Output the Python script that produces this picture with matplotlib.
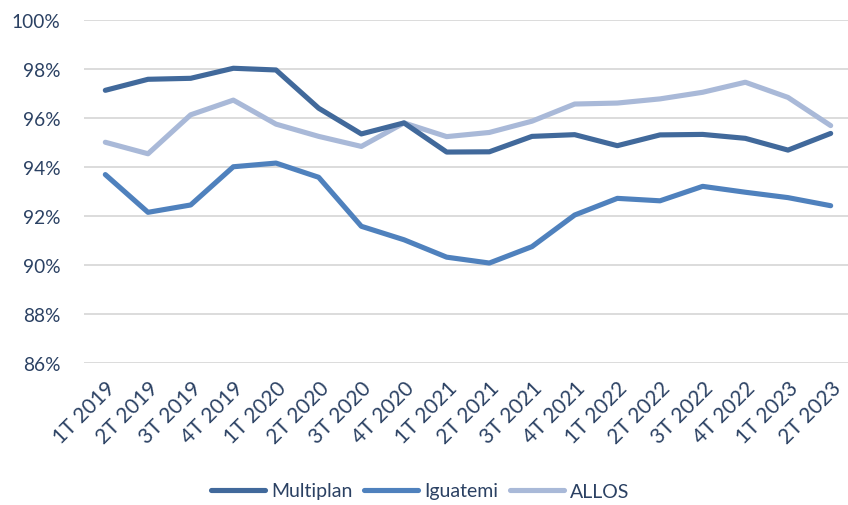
import matplotlib
matplotlib.use("Agg")
import matplotlib.pyplot as plt
from matplotlib.ticker import FuncFormatter, MultipleLocator

categories = ["1T 2019", "2T 2019", "3T 2019", "4T 2019", "1T 2020", "2T 2020",
              "3T 2020", "4T 2020", "1T 2021", "2T 2021", "3T 2021", "4T 2021",
              "1T 2022", "2T 2022", "3T 2022", "4T 2022", "1T 2023", "2T 2023"]
multiplan = [97.13, 97.58, 97.62, 98.03, 97.96, 96.40, 95.35, 95.80, 94.61, 94.62,
             95.25, 95.32, 94.87, 95.31, 95.33, 95.17, 94.69, 95.37]
iguatemi = [93.69, 92.15, 92.45, 94.01, 94.16, 93.58, 91.58, 91.03, 90.32, 90.08,
            90.75, 92.04, 92.72, 92.62, 93.21, 92.97, 92.75, 92.42]
allos = [95.01, 94.54, 96.13, 96.73, 95.75, 95.25, 94.84, 95.80, 95.24, 95.41,
         95.87, 96.57, 96.61, 96.78, 97.05, 97.46, 96.84, 95.69]

text_color = "#2B4163"
plt.rcParams['font.family'] = ['Lato', 'DejaVu Sans']

fig = plt.figure(figsize=(8.48, 5.06), dpi=100)
W, H = 848, 506
left, right, top, bottom = 84, 852, 21, 364
ax = fig.add_axes([left / W, 1 - bottom / H, (right - left) / W, (bottom - top) / H])

x = list(range(len(categories)))
lw = 3.7
ax.plot(x, multiplan, color="#41699B", lw=lw, label="Multiplan", solid_capstyle="round", zorder=3)
ax.plot(x, iguatemi, color="#4F81BD", lw=lw, label="Iguatemi", solid_capstyle="round", zorder=3)
ax.plot(x, allos, color="#A9B9D8", lw=lw, label="ALLOS", solid_capstyle="round", zorder=2)

ax.set_xlim(-0.5, len(categories) - 0.5)
ax.set_ylim(86, 100)
ax.yaxis.set_major_locator(MultipleLocator(2))
ax.yaxis.set_major_formatter(FuncFormatter(lambda v, p: f"{v:.0f}%"))
ax.grid(axis="y", color="#D9D9D9", lw=1.3, zorder=0)
ax.set_axisbelow(True)
for s in ax.spines.values():
    s.set_visible(False)
ax.tick_params(axis="both", length=0, colors=text_color)
ax.tick_params(axis="y", pad=17, labelsize=13.8)
ax.set_xticks(x)
ax.set_xticklabels(categories, rotation=45, ha="right", va="top", rotation_mode="anchor",
                   fontsize=15)
ax.tick_params(axis="x", pad=10)

leg = fig.legend(loc="center", bbox_to_anchor=(420 / W, 1 - 492 / H), ncol=3, frameon=False,
                 fontsize=14, handlelength=2.8, handletextpad=0.3, columnspacing=0.6)
for t in leg.get_texts():
    t.set_color(text_color)

fig.savefig("out.png", dpi=100)
